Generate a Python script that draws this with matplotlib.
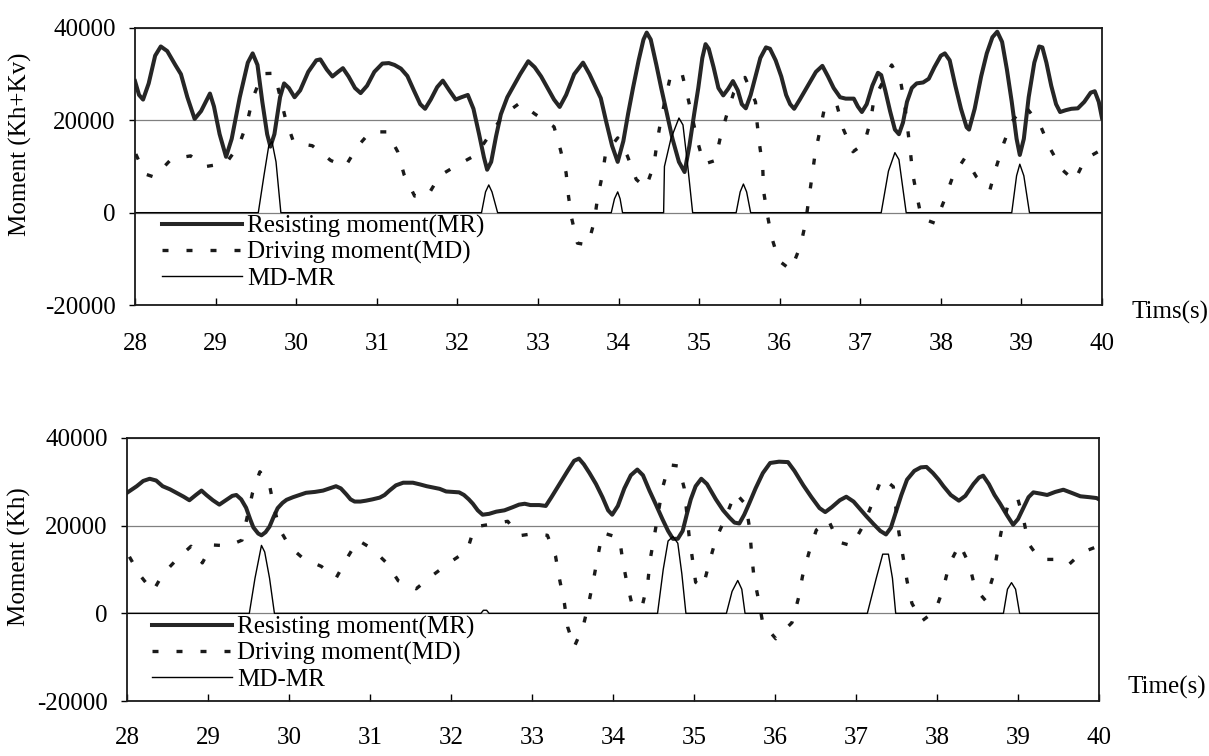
import matplotlib
matplotlib.use("Agg")
import matplotlib.pyplot as plt

plt.rcParams['font.family'] = ['Liberation Serif', 'DejaVu Serif']
plt.rcParams['axes.unicode_minus'] = False

# ---------------- data: upper panel (Kh+Kv) ----------------
top_mr_t = [28.00, 28.05, 28.10, 28.17, 28.25, 28.32, 28.40, 28.50, 28.57, 28.65, 28.74, 28.82, 28.93, 28.98,
            29.05, 29.13, 29.20, 29.30, 29.40, 29.46, 29.52, 29.58, 29.64, 29.68, 29.73, 29.80, 29.85, 29.91,
            29.98, 30.05, 30.15, 30.25, 30.30, 30.38, 30.45, 30.52, 30.58, 30.65, 30.73, 30.80, 30.88, 30.97,
            31.07, 31.15, 31.22, 31.30, 31.38, 31.46, 31.54, 31.60, 31.67, 31.75, 31.82, 31.90, 31.98, 32.05,
            32.13, 32.20, 32.27, 32.33, 32.37, 32.42, 32.48, 32.54, 32.62, 32.70, 32.78, 32.88, 32.96, 33.04,
            33.12, 33.20, 33.27, 33.35, 33.45, 33.56, 33.64, 33.72, 33.78, 33.85, 33.92, 33.99, 34.06, 34.12,
            34.18, 34.25, 34.31, 34.35, 34.40, 34.47, 34.53, 34.60, 34.67, 34.75, 34.82, 34.88, 34.94, 34.99,
            35.04, 35.08, 35.12, 35.18, 35.24, 35.30, 35.36, 35.42, 35.48, 35.53, 35.58, 35.64, 35.70, 35.76,
            35.83, 35.88, 35.95, 36.02, 36.08, 36.13, 36.18, 36.25, 36.35, 36.45, 36.53, 36.60, 36.67, 36.75,
            36.82, 36.92, 36.97, 37.02, 37.08, 37.15, 37.22, 37.26, 37.31, 37.37, 37.43, 37.48, 37.53, 37.58,
            37.64, 37.70, 37.78, 37.85, 37.92, 38.00, 38.05, 38.11, 38.18, 38.25, 38.32, 38.35, 38.42, 38.50,
            38.57, 38.64, 38.70, 38.76, 38.82, 38.88, 38.94, 38.98, 39.03, 39.09, 39.16, 39.22, 39.26, 39.31,
            39.37, 39.43, 39.48, 39.55, 39.62, 39.70, 39.78, 39.86, 39.91, 39.96, 40.00]
top_mr_v = [28500, 25500, 24500, 28000, 34000, 36000, 35000, 32000, 30000, 25000, 20300, 22000, 25800, 23000,
            17000, 12100, 16000, 25000, 32500, 34500, 32000, 24000, 17000, 14300, 17000, 25000, 28000, 27000,
            25000, 26500, 30500, 33000, 33200, 31000, 29500, 30500, 31300, 29500, 27000, 25900, 27500, 30500,
            32300, 32400, 32000, 31200, 29600, 26500, 23500, 22500, 24500, 27200, 28600, 26500, 24500, 25000,
            25500, 22500, 17000, 12000, 9300, 11000, 16500, 21300, 25000, 27500, 30000, 32800, 31500, 29500,
            27000, 24500, 22900, 25500, 30000, 32500, 30000, 27000, 24800, 19500, 14500, 11000, 15500, 21500,
            27000, 33000, 37500, 39000, 37500, 32000, 27000, 21500, 16000, 11000, 8800, 14500, 21500, 27000,
            33500, 36500, 35500, 31500, 27000, 25400, 26800, 28500, 26500, 23500, 22600, 25500, 29500, 33500,
            35800, 35500, 33000, 29500, 25500, 23500, 22500, 24500, 27500, 30500, 31800, 29500, 27000, 25000,
            24700, 24700, 23000, 21800, 23500, 27500, 30300, 29800, 26500, 22000, 18000, 17000, 19500, 24000,
            27000, 28000, 28200, 29000, 31500, 34000, 34500, 33000, 27500, 22500, 18500, 18000, 22500, 29500,
            34500, 38000, 39200, 37000, 31000, 24000, 16000, 12500, 16000, 25000, 32500, 36000, 35800, 32500,
            27500, 23500, 21800, 22200, 22500, 22600, 24000, 26000, 26300, 24000, 20500]

top_md_t = [28.01, 28.12, 28.24, 28.45, 28.69, 28.88, 29.13, 29.29, 29.39, 29.46, 29.58, 29.73, 29.87, 29.97,
            30.20, 30.43, 30.61, 30.76, 30.92, 31.13, 31.26, 31.34, 31.47, 31.63, 31.78, 31.97, 32.23, 32.42,
            32.58, 32.78, 32.96, 33.20, 33.28, 33.35, 33.38, 33.42, 33.49, 33.62, 33.70, 33.74, 33.80, 33.84,
            33.99, 34.11, 34.22, 34.34, 34.44, 34.48, 34.53, 34.65, 34.79, 34.86, 34.98, 35.06, 35.20, 35.26,
            35.34, 35.43, 35.57, 35.70, 35.72, 35.75, 35.79, 35.80, 35.85, 35.90, 35.99, 36.14, 36.26, 36.32,
            36.36, 36.40, 36.44, 36.50, 36.56, 36.71, 36.79, 36.91, 37.05, 37.13, 37.17, 37.39, 37.50, 37.55,
            37.62, 37.65, 37.70, 37.76, 37.93, 38.05, 38.15, 38.30, 38.44, 38.61, 38.69, 38.78, 38.88, 39.04,
            39.23, 39.35, 39.50, 39.66, 39.79, 39.97]
top_md_v = [12700, 8400, 7700, 11600, 12300, 10000, 10700, 14600, 19400, 24700, 30100, 30200, 20200, 15200,
            14500, 11300, 10000, 14300, 17500, 17500, 13200, 8200, 3600, 3600, 8000, 10000, 12500, 17300,
            21300, 23800, 21400, 18600, 13600, 8600, 3500, -1300, -6600, -7000, -1900, 3200, 8200, 12900,
            16200, 12300, 7200, 5400, 10400, 15400, 20500, 30000, 30000, 25000, 15500, 10500, 11300, 16000,
            21000, 26000, 29300, 24000, 19400, 14800, 9800, 4700, -700, -5300, -10400, -12400, -7100, -2300,
            2700, 7700, 12800, 17800, 23000, 23300, 18100, 13200, 15000, 20000, 24600, 32000, 28500, 23700,
            13600, 8500, 3900, -1200, -2300, 3000, 7900, 11900, 7800, 5000, 10000, 15000, 19700, 23200,
            19100, 14100, 9400, 6900, 11600, 13400]

top_diff_t = [28.00, 29.53, 29.60, 29.66, 29.70, 29.75, 29.81, 32.30, 32.35, 32.39, 32.43, 32.50,
              33.91, 33.95, 33.99, 34.02, 34.05, 34.56, 34.57, 34.65, 34.75, 34.80, 34.86, 34.92,
              35.46, 35.51, 35.55, 35.59, 35.64, 37.26, 37.35, 37.43, 37.48, 37.57,
              38.88, 38.94, 38.98, 39.03, 39.10, 40.00]
top_diff_v = [0, 0, 8000, 14500, 15400, 11000, 0, 0, 4500, 6000, 4500, 0,
              0, 3000, 4500, 3000, 0, 0, 10000, 16000, 20500, 19000, 10000, 0,
              0, 4500, 6200, 4500, 0, 0, 9000, 13000, 11500, 0,
              0, 8000, 10500, 8000, 0, 0]

# ---------------- data: lower panel (Kh) ----------------
bot_mr_t = [28.00, 28.12, 28.20, 28.28, 28.36, 28.44, 28.53, 28.61, 28.70, 28.77, 28.85, 28.92, 28.98, 29.06,
            29.14, 29.22, 29.30, 29.35, 29.41, 29.47, 29.52, 29.56, 29.62, 29.66, 29.71, 29.76, 29.81, 29.86,
            29.92, 29.97, 30.05, 30.13, 30.21, 30.32, 30.42, 30.50, 30.58, 30.64, 30.71, 30.76, 30.81, 30.88,
            30.95, 31.03, 31.12, 31.18, 31.24, 31.32, 31.41, 31.53, 31.62, 31.70, 31.78, 31.86, 31.94, 32.02,
            32.10, 32.16, 32.22, 32.27, 32.33, 32.39, 32.47, 32.56, 32.66, 32.76, 32.84, 32.91, 32.98, 33.09,
            33.17, 33.24, 33.34, 33.44, 33.52, 33.58, 33.64, 33.71, 33.79, 33.87, 33.94, 33.99, 34.06, 34.14,
            34.22, 34.30, 34.37, 34.45, 34.53, 34.61, 34.68, 34.74, 34.80, 34.86, 34.91, 34.96, 35.02, 35.09,
            35.16, 35.27, 35.36, 35.44, 35.50, 35.56, 35.62, 35.68, 35.76, 35.85, 35.94, 36.05, 36.16, 36.24,
            36.35, 36.45, 36.55, 36.62, 36.70, 36.80, 36.88, 36.97, 37.05, 37.13, 37.22, 37.30, 37.37, 37.43,
            37.50, 37.56, 37.63, 37.72, 37.80, 37.87, 37.95, 38.02, 38.08, 38.17, 38.27, 38.35, 38.45, 38.52,
            38.57, 38.64, 38.71, 38.78, 38.86, 38.94, 39.00, 39.07, 39.13, 39.19, 39.28, 39.36, 39.46, 39.56,
            39.66, 39.77, 39.88, 39.97, 40.00]
bot_mr_v = [27500, 29000, 30200, 30700, 30300, 29000, 28300, 27500, 26600, 25800, 27000, 28000, 27000, 25800,
            24800, 25800, 26800, 27000, 26000, 24100, 21500, 19600, 18200, 17800, 18500, 19800, 22000, 24000,
            25200, 25900, 26500, 27000, 27500, 27700, 28000, 28500, 29000, 28500, 27100, 26000, 25500, 25500,
            25700, 26000, 26400, 27000, 28000, 29200, 29800, 29800, 29400, 29000, 28700, 28400, 27800, 27700,
            27600, 27000, 26000, 25000, 23500, 22500, 22700, 23200, 23500, 24200, 24800, 25000, 24700, 24700,
            24500, 26500, 29500, 32500, 34800, 35300, 34000, 32000, 29500, 26500, 23500, 22500, 24500, 28500,
            31500, 32800, 31500, 28000, 24800, 21500, 18800, 17000, 17000, 18800, 22500, 26000, 29000, 30700,
            29500, 26000, 23500, 21800, 20700, 20500, 22500, 25000, 28500, 32000, 34300, 34600, 34500, 32500,
            29200, 26500, 24000, 23100, 24200, 25800, 26600, 25500, 23800, 22100, 20300, 18800, 18000, 19500,
            23500, 27000, 30500, 32500, 33300, 33400, 32000, 30500, 29000, 27000, 25700, 26800, 29500, 31000,
            31400, 29500, 27000, 25000, 22500, 20200, 21500, 24200, 26500, 27600, 27300, 27000, 27700, 28200,
            27500, 26700, 26500, 26300, 26000]

bot_md_t = [28.03, 28.16, 28.32, 28.44, 28.62, 28.79, 28.93, 29.05, 29.25, 29.42, 29.55, 29.64, 29.75, 29.80,
            29.88, 30.01, 30.17, 30.40, 30.58, 30.73, 30.85, 31.02, 31.20, 31.35, 31.57, 31.76, 32.00, 32.20,
            32.29, 32.70, 32.84, 33.03, 33.19, 33.29, 33.34, 33.40, 33.44, 33.52, 33.63, 33.70, 33.76, 33.81,
            33.87, 34.08, 34.12, 34.17, 34.24, 34.36, 34.43, 34.46, 34.51, 34.61, 34.69, 34.81, 34.88, 34.94,
            34.98, 35.02, 35.11, 35.19, 35.27, 35.39, 35.51, 35.64, 35.69, 35.71, 35.74, 35.79, 35.85, 36.01,
            36.21, 36.29, 36.34, 36.42, 36.51, 36.66, 36.78, 36.95, 37.10, 37.21, 37.32, 37.46, 37.53, 37.58,
            37.63, 37.69, 37.81, 37.98, 38.08, 38.15, 38.28, 38.40, 38.47, 38.60, 38.69, 38.74, 38.79, 38.87,
            38.99, 39.07, 39.13, 39.27, 39.46, 39.62, 39.79, 40.00]
bot_md_v = [12900, 8700, 5000, 8900, 12400, 15300, 11500, 15600, 15400, 16700, 27500, 32300, 30100, 25500,
            19300, 15200, 12600, 10700, 8000, 13000, 16700, 14800, 11600, 7400, 5600, 8500, 11800, 14300,
            19700, 21000, 17700, 18200, 17800, 13100, 7800, 2300, -3100, -7700, -3100, 2300, 7700, 12800,
            18400, 17200, 12000, 7100, 1600, 1600, 7100, 12400, 17600, 28500, 33900, 33600, 28500, 17600,
            12500, 7100, 5900, 11700, 16900, 21900, 27500, 24800, 19000, 13700, 8300, 3700, -2300, -5800,
            -2100, 3500, 8500, 13900, 19000, 21300, 16300, 15400, 20400, 25600, 31000, 28900, 18400, 13000,
            7400, 2300, -1800, 600, 5800, 11100, 15800, 11100, 5700, 2900, 8300, 13300, 18400, 24300,
            26600, 21300, 15900, 12300, 12300, 11000, 13900, 15400]

bot_diff_t = [28.00, 29.51, 29.58, 29.66, 29.70, 29.76, 29.82, 32.37, 32.40, 32.44, 32.47,
              34.55, 34.62, 34.68, 34.74, 34.80, 34.85, 34.90, 35.40, 35.47, 35.54, 35.59, 35.63,
              37.14, 37.25, 37.33, 37.40, 37.45, 37.49, 38.82, 38.87, 38.92, 38.97, 39.02, 40.00]
bot_diff_v = [0, 0, 8000, 15500, 14000, 8000, 0, 0, 700, 700, 0,
              0, 10000, 16500, 17500, 16000, 9000, 0, 0, 5000, 7500, 5500, 0,
              0, 8000, 13500, 13500, 8000, 0, 0, 5500, 7000, 5500, 0, 0]

x_ticks = list(range(28, 41))
y_ticks = [-20000, 0, 20000, 40000]
legend_labels = ["Resisting moment(MR)", "Driving moment(MD)", "MD-MR"]

FS = 18
fig = plt.figure(figsize=(12.09, 7.56), dpi=100)
ax1 = fig.add_axes([135/1209, 1-305/756, 967/1209, 277/756])
ax2 = fig.add_axes([127/1209, 1-701/756, 972/1209, 263/756])

panels = [
    (ax1, top_mr_t, top_mr_v, top_md_t, top_md_v, top_diff_t, top_diff_v, "Moment (Kh+Kv)",
     (-0.107, 0.58), (0.028, 0.325), 20),
    (ax2, bot_mr_t, bot_mr_v, bot_md_t, bot_md_v, bot_diff_t, bot_diff_v, "Moment (Kh)",
     (-0.099, 0.548), (0.026, 0.323), 19),
]

for ax, mrt, mrv, mdt, mdv, dft, dfv, ylab, ylc, legpos, xpad in panels:
    ax.set_xlim(28, 40)
    ax.set_ylim(-20000, 40000)
    ax.set_xticks(x_ticks)
    ax.set_yticks(y_ticks)
    ax.yaxis.grid(True, color='#808080', linewidth=0.9)
    ax.set_axisbelow(True)
    l1, = ax.plot(mrt, mrv, color='#262626', linewidth=2.9, solid_joinstyle='round')
    l2, = ax.plot(mdt, mdv, color='#1a1a1a', linewidth=2.4, linestyle=(0, (1.8, 5.4)))
    l3, = ax.plot(dft, dfv, color='black', linewidth=1.0)
    for s in ax.spines.values():
        s.set_linewidth(1.3)
        s.set_color('#1a1a1a')
    ax.tick_params(axis='x', direction='in', length=5, width=1, labelsize=FS, pad=xpad)
    ax.tick_params(axis='y', direction='out', length=4, width=1, labelsize=FS, pad=10)
    ax.set_ylabel(ylab, fontsize=FS)
    ax.yaxis.set_label_coords(*ylc)
    ax.legend([l1, l2, l3], legend_labels, loc='upper left', bbox_to_anchor=legpos,
              frameon=False, fontsize=FS, handlelength=3.2, handletextpad=0.2,
              labelspacing=0.13, borderpad=0, borderaxespad=0)

fig.text(1131/1209, 1-312/756, "Tims(s)", fontsize=FS, ha='left', va='center')
fig.text(1127/1209, 1-687/756, "Time(s)", fontsize=FS, ha='left', va='center')

fig.savefig("out.png", dpi=100)
